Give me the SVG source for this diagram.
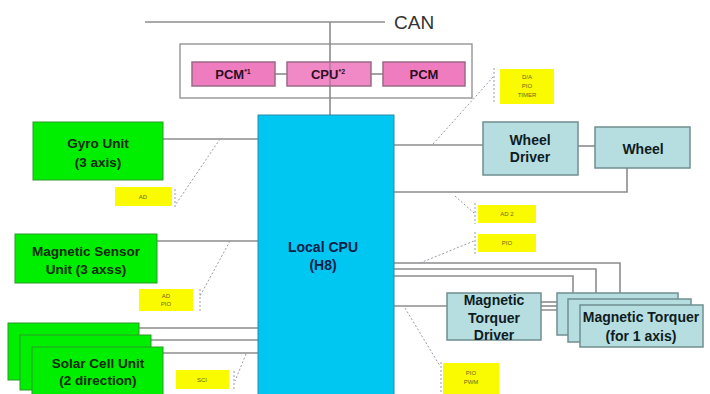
<svg xmlns="http://www.w3.org/2000/svg" width="710" height="394" viewBox="0 0 710 394">
<style>
  .ln{stroke:#8c8c8c;stroke-width:1.6;fill:none}
  .dt{stroke:#9a9aa8;stroke-width:1;stroke-dasharray:2 2;fill:none}
  .green{fill:#00ee00;stroke:#2a9a2a;stroke-width:1}
  .teal{fill:#b6dde0;stroke:#6f8f90;stroke-width:1.5}
  .pink{fill:#f07cc0;stroke:#9a6a86;stroke-width:1.5}
  .cpu{fill:#00c6f2;stroke:#2c8aa6;stroke-width:1}
  .yel{fill:#fbfb00}
  .t{font-family:"Liberation Sans",Arial,sans-serif;font-weight:bold;text-anchor:middle}
  .tg{fill:#0f2a0f;font-size:13.5px}
  .tt{fill:#0e1c22;font-size:14px}
  .tp{fill:#2e0f24;font-size:13px}
  .ty{font-family:"Liberation Sans",Arial,sans-serif;font-size:6px;fill:#6a6a20;text-anchor:middle}
</style>
<rect width="710" height="394" fill="#ffffff"/>
<g id="connectors">
  <line class="ln" x1="145" y1="22" x2="385" y2="22"/>
  <line class="ln" x1="330" y1="22" x2="330" y2="115"/>
  <line class="ln" x1="275" y1="74" x2="287" y2="74"/>
  <line class="ln" x1="371" y1="74" x2="383" y2="74"/>
  <line class="ln" x1="163" y1="139" x2="258" y2="139"/>
  <line class="ln" x1="157" y1="241" x2="258" y2="241"/>
  <line class="ln" x1="139" y1="328" x2="258" y2="328"/>
  <line class="ln" x1="151" y1="340" x2="258" y2="340"/>
  <line class="ln" x1="163" y1="353" x2="258" y2="353"/>
  <line class="ln" x1="394" y1="145" x2="483" y2="145"/>
  <line class="ln" x1="578" y1="146" x2="595" y2="146"/>
  <polyline class="ln" points="627,168 627,192 394,192"/>
  <polyline class="ln" points="394,263 620,263 620,305"/>
  <polyline class="ln" points="394,269 596,269 596,299"/>
  <polyline class="ln" points="394,276 573,276 573,293"/>
  <line class="ln" x1="394" y1="306" x2="447" y2="306"/>
  <line class="ln" x1="541" y1="302" x2="557" y2="302"/>
  <line class="ln" x1="541" y1="306" x2="568" y2="306"/>
  <line class="ln" x1="541" y1="310" x2="580" y2="310"/>
  <polyline class="dt" points="220,139 176,204"/>
  <line class="dt" x1="175" y1="189" x2="175" y2="207"/>
  <polyline class="dt" points="230,241 200,296"/>
  <line class="dt" x1="200" y1="289" x2="200" y2="312"/>
  <polyline class="dt" points="246,354 235,381"/>
  <line class="dt" x1="234" y1="371" x2="234" y2="390"/>
  <polyline class="dt" points="433,144 494,76"/>
  <line class="dt" x1="494" y1="68" x2="494" y2="104"/>
  <polyline class="dt" points="455,196 474,213"/>
  <line class="dt" x1="475" y1="203" x2="475" y2="224"/>
  <polyline class="dt" points="420,263 474,241"/>
  <line class="dt" x1="475" y1="232" x2="475" y2="254"/>
  <polyline class="dt" points="405,308 440,366"/>
  <line class="dt" x1="441" y1="362" x2="441" y2="394"/>
</g>
<text x="394" y="29" font-family="'Liberation Sans',Arial,sans-serif" font-size="19" fill="#333333">CAN</text>
<g id="outer-box"><rect x="180" y="44" width="292" height="54" fill="none" stroke="#8c8c8c" stroke-width="1.3"/></g>
<g id="pcm1"><rect class="pink" x="192" y="62" width="83" height="24"/><text class="t tp" x="233" y="79">PCM<tspan font-size="7" dy="-5">*1</tspan></text></g>
<g id="cpu2"><rect class="pink" x="287" y="62" width="84" height="24" fill-opacity="0.9"/><line x1="330" y1="62" x2="330" y2="86" stroke="#9a7a90" stroke-width="1"/><text class="t tp" x="328" y="79">CPU<tspan font-size="7" dy="-5">*2</tspan></text></g>
<g id="pcm"><rect class="pink" x="383" y="62" width="82" height="24"/><text class="t tp" x="424" y="79">PCM</text></g>
<g id="local-cpu"><rect class="cpu" x="258" y="115" width="136" height="285"/><text class="t" x="323" y="252" font-size="14" fill="#0a2048">Local CPU</text><text class="t" x="323" y="270" font-size="14" fill="#0a2048">(H8)</text></g>
<g id="gyro"><rect class="green" x="33" y="122" width="130" height="58"/><text class="t tg" x="98" y="148">Gyro Unit</text><text class="t tg" x="98" y="167">(3 axis)</text></g>
<g id="mag-sensor"><rect class="green" x="15" y="234" width="142" height="49"/><text class="t tg" x="86" y="256">Magnetic Sensor</text><text class="t tg" x="86" y="274">Unit (3 axss)</text></g>
<g id="solar"><rect class="green" x="8" y="323" width="131" height="57"/><rect class="green" x="20" y="335" width="131" height="55"/><rect class="green" x="32" y="347" width="131" height="50"/><text class="t tg" x="98" y="368">Solar Cell Unit</text><text class="t tg" x="98" y="385">(2 direction)</text></g>
<g id="wheel-driver"><rect class="teal" x="483" y="122" width="95" height="53"/><text class="t tt" x="530" y="145">Wheel</text><text class="t tt" x="530" y="162">Driver</text></g>
<g id="wheel"><rect class="teal" x="595" y="127" width="95" height="41"/><text class="t tt" x="643" y="154">Wheel</text></g>
<g id="mt-driver"><rect class="teal" x="447" y="293" width="94" height="47"/><text class="t tt" x="494" y="305">Magnetic</text><text class="t tt" x="494" y="323">Torquer</text><text class="t tt" x="494" y="340">Driver</text></g>
<g id="torquer"><rect class="teal" x="557" y="293" width="121" height="42"/><rect class="teal" x="568" y="299" width="123" height="43"/><rect class="teal" x="580" y="305" width="123" height="42"/><text class="t tt" x="641" y="322">Magnetic Torquer</text><text class="t tt" x="641" y="341">(for 1 axis)</text></g>
<g id="lbl-ad"><rect class="yel" x="115" y="187" width="57" height="19"/><text class="ty" x="143" y="199">AD</text></g>
<g id="lbl-adpio"><rect class="yel" x="139" y="289" width="54" height="22"/><text class="ty" x="166" y="298">AD</text><text class="ty" x="166" y="306">PIO</text></g>
<g id="lbl-sci"><rect class="yel" x="176" y="370" width="53" height="19"/><text class="ty" x="202" y="382">SCI</text></g>
<g id="lbl-dapio"><rect class="yel" x="500" y="69" width="54" height="35"/><text class="ty" x="527" y="79">D/A</text><text class="ty" x="527" y="88">PIO</text><text class="ty" x="527" y="97">TIMER</text></g>
<g id="lbl-ad2"><rect class="yel" x="478" y="205" width="58" height="18"/><text class="ty" x="507" y="216">AD 2</text></g>
<g id="lbl-pio"><rect class="yel" x="478" y="234" width="58" height="18"/><text class="ty" x="507" y="245">PIO</text></g>
<g id="lbl-piopwm"><rect class="yel" x="443" y="363" width="56" height="31"/><text class="ty" x="471" y="375">PIO</text><text class="ty" x="471" y="384">PWM</text></g>
</svg>
